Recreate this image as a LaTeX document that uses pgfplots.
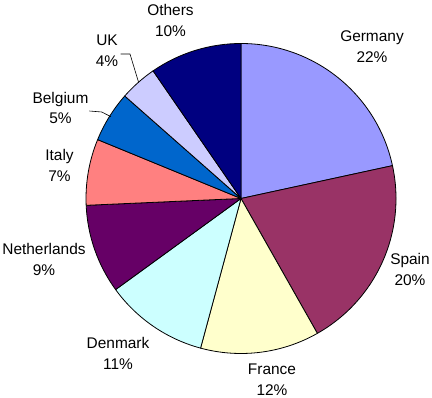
\documentclass[border=0pt]{standalone}
\usepackage{pgfplots}
\usepackage{pgfplotstable}
\pgfplotsset{compat=1.18}
\usepackage{fontspec}
\setmainfont{Liberation Sans}

\definecolor{pie0}{HTML}{9999FF}
\definecolor{pie1}{HTML}{993366}
\definecolor{pie2}{HTML}{FFFFCC}
\definecolor{pie3}{HTML}{CCFFFF}
\definecolor{pie4}{HTML}{660066}
\definecolor{pie5}{HTML}{FF8080}
\definecolor{pie6}{HTML}{0066CC}
\definecolor{pie7}{HTML}{CCCCFF}
\definecolor{pie8}{HTML}{000080}

% share of each country (percent), label, label position (px from top-left)
\pgfplotstableread{
name        pct   lab  lx    ly
Germany     21.6  22   372   46.5
Spain       20.2  20   410   269.5
France      12.4  12   272   380
Denmark     10.8  11   118   353.5
Netherlands 9.3   9    44    259.5
Italy       6.9   7    59.5  165
Belgium     5.3   5    60.5  108
UK          3.9   4    107   50.5
Others      9.6   10   170.5 20.5
}\piedata

\begin{document}
\begin{tikzpicture}
\begin{axis}[
  scale only axis, width=432bp, height=398bp,
  xmin=0, xmax=432, ymin=0, ymax=398,
  hide axis, clip=false,
]
\def\cx{241}\def\cy{199.5}\def\R{155}
\def\cum{0}
\pgfplotsforeachungrouped \i in {0,...,8}{%
  \pgfplotstablegetelem{\i}{pct}\of\piedata
  \let\v=\pgfplotsretval
  \pgfmathsetmacro\a{90-3.6*\cum}%
  \pgfmathsetmacro\cum{\cum+\v}%
  \pgfmathsetmacro\b{90-3.6*\cum}%
  \edef\temp{\noexpand\filldraw[fill=pie\i, draw=black, line width=0.8bp, line join=round]
    (axis cs:\cx,\cy) -- ([shift={(\a:\R bp)}]axis cs:\cx,\cy)
    arc[start angle=\a, end angle=\b, radius=\R bp] -- cycle;}%
  \temp
}
\pgfplotsforeachungrouped \i in {0,...,8}{%
  \pgfplotstablegetelem{\i}{name}\of\piedata \let\nm=\pgfplotsretval
  \pgfplotstablegetelem{\i}{lab}\of\piedata \let\lb=\pgfplotsretval
  \pgfplotstablegetelem{\i}{lx}\of\piedata \let\lx=\pgfplotsretval
  \pgfplotstablegetelem{\i}{ly}\of\piedata \let\ly=\pgfplotsretval
  \pgfmathsetmacro\lyy{398-\ly}%
  \edef\temp{\noexpand\node[align=center, inner sep=0pt, font=\noexpand\fontsize{15.5}{21}\noexpand\selectfont]
    at (axis cs:\lx,\lyy) {\nm\noexpand\\\lb\noexpand\%};}%
  \temp
}
% leader lines
\draw[black, line width=0.6bp] (axis cs:120.7,344) -- (axis cs:130,344) -- (axis cs:138.7,315.3);
\draw[black, line width=0.6bp] (axis cs:89.3,287) -- (axis cs:101.7,286) -- (axis cs:111,281.3);
\end{axis}
\pgfresetboundingbox
\useasboundingbox (0,0) rectangle (432bp,398bp);
\end{tikzpicture}
\end{document}
